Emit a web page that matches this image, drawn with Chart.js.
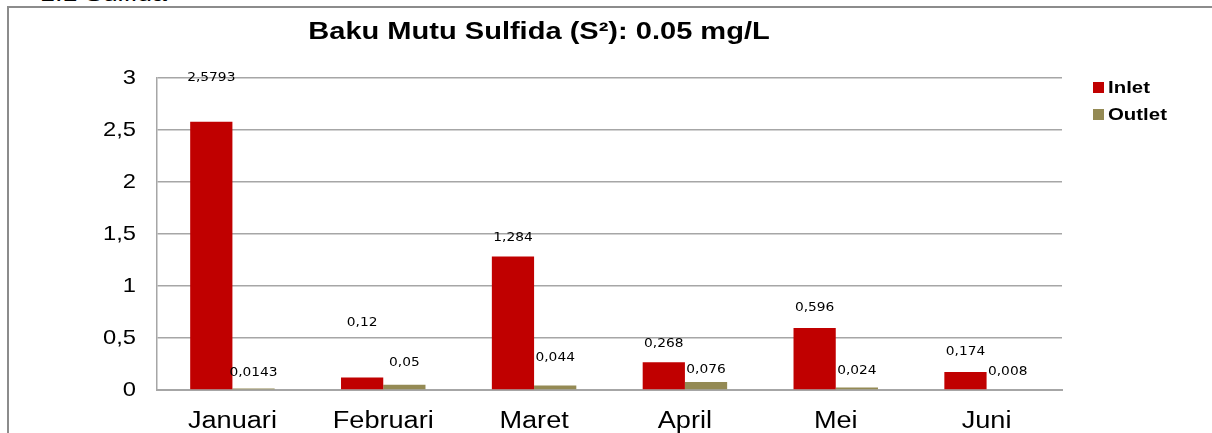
<!DOCTYPE html>
<html>
<head>
<meta charset="utf-8">
<script src="https://cdn.jsdelivr.net/npm/chart.js@4.4.0/dist/chart.umd.min.js"></script>
<style>
  html, body { margin: 0; padding: 0; background: #fff; overflow: hidden; }
  body { width: 1212px; height: 433px; position: relative; }
  #heading { position: absolute; left: 40px; top: -17px; font: 22px "Liberation Sans", Arial, sans-serif; line-height: 22px; color: #000; transform: scaleX(1.22); transform-origin: left top; }
  #frame { position: absolute; left: 7px; top: 6px; width: 1300px; height: 500px; border: 2px solid #8c8c8c; }
  #wrap { position: absolute; left: 0; top: 0; width: 1203px; height: 425px; }
</style>
</head>
<body>
<div id="heading">1.1 Sulfida</div>
<div id="frame">
  <div id="wrap"><canvas id="sulfidaChart"></canvas></div>
</div>
<script>
  // Data
  const months = ['Januari', 'Februari', 'Maret', 'April', 'Mei', 'Juni'];
  const inletValues = [2.5793, 0.12, 1.284, 0.268, 0.596, 0.174];
  const outletValues = [0.0143, 0.05, 0.044, 0.076, 0.024, 0.008];
  const yTicks = [0, 0.5, 1, 1.5, 2, 2.5, 3];
  const chartTitle = 'Baku Mutu Sulfida (S\u00B2): 0.05 mg/L';

  // label lift above each bar (px), some labels were moved by hand in the original
  const inletLabelLift = [44, 55, 19, 19, 20, 20];
  const outletLabelLift = [16, 22, 28, 12, 17, 18];

  const arial = '"Liberation Sans", Arial, sans-serif';

  // the source picture is stretched sideways, so text gets a horizontal scale
  function wideText(ctx, text, x, y, sx, align) {
    ctx.save();
    ctx.translate(x, y);
    ctx.scale(sx, 1);
    ctx.textAlign = align;
    ctx.fillText(text, 0, 0);
    ctx.restore();
  }

  const excelLook = {
    id: 'excelLook',
    afterDraw(chart) {
      const ctx = chart.ctx;
      const xs = chart.scales.x;
      const ys = chart.scales.y;
      ctx.save();
      ctx.fillStyle = '#000';
      ctx.textBaseline = 'middle';

      // axis labels
      ctx.font = '21px ' + arial;
      ys.ticks.forEach(t => {
        wideText(ctx, String(t.value).replace('.', ','), 127, ys.getPixelForValue(t.value), 1.13, 'right');
      });
      ctx.font = '23px ' + arial;
      months.forEach((m, i) => {
        wideText(ctx, m, xs.getPixelForTick(i), 414, 1.18, 'center');
      });

      // value labels
      ctx.font = '13px "DejaVu Sans", sans-serif';
      chart.data.datasets.forEach((ds, i) => {
        const lifts = i === 0 ? inletLabelLift : outletLabelLift;
        chart.getDatasetMeta(i).data.forEach((bar, j) => {
          const txt = String(ds.data[j]).replace('.', ',');
          wideText(ctx, txt, bar.x, bar.y - lifts[j], 1.06, 'center');
        });
      });

      // title
      ctx.font = 'bold 24px ' + arial;
      wideText(ctx, chartTitle, 530, 24, 1.21, 'center');

      // legend
      ctx.font = 'bold 17px ' + arial;
      chart.data.datasets.forEach((ds, i) => {
        const y = 74 + i * 27;
        ctx.fillStyle = ds.backgroundColor;
        ctx.fillRect(1084, y, 11, 11);
        ctx.fillStyle = '#000';
        wideText(ctx, ds.label, 1099, y + 6, 1.2, 'left');
      });
      ctx.restore();
    }
  };

  const ctx = document.getElementById('sulfidaChart').getContext('2d');
  new Chart(ctx, {
    type: 'bar',
    data: {
      labels: months,
      datasets: [
        { label: 'Inlet', data: inletValues, backgroundColor: '#C00000' },
        { label: 'Outlet', data: outletValues, backgroundColor: '#948A54' }
      ]
    },
    options: {
      responsive: true,
      maintainAspectRatio: false,
      animation: false,
      categoryPercentage: 0.56,
      barPercentage: 1,
      layout: { padding: { top: 70, right: 150, left: 0, bottom: 0 } },
      plugins: {
        legend: { display: false },
        title: { display: false },
        tooltip: { enabled: false }
      },
      scales: {
        x: {
          grid: { display: false, drawTicks: false },
          border: { color: '#a6a6a6', width: 2 },
          ticks: { display: false },
          afterFit(scale) { scale.height = 43; }
        },
        y: {
          min: 0,
          max: 3,
          afterBuildTicks(scale) { scale.ticks = yTicks.map(v => ({ value: v })); },
          grid: { color: '#a6a6a6', lineWidth: 1.5, drawTicks: false },
          border: { color: '#a6a6a6', width: 1.5 },
          ticks: { display: false },
          afterFit(scale) { scale.width = 148; }
        }
      }
    },
    plugins: [excelLook]
  });
</script>
</body>
</html>
